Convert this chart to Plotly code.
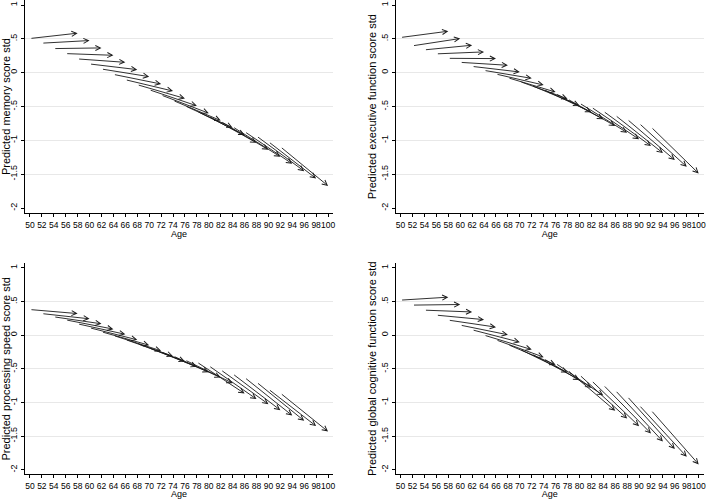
import plotly.graph_objects as go

# ---------------- data ----------------
baseline_age = [50, 52, 54, 56, 58, 60, 62, 64, 66, 68, 70, 72, 74, 76, 78, 80, 82, 84, 86, 88, 90, 92]
followup_age = [58, 60, 62, 64, 66, 68, 70, 72, 74, 76, 78, 80, 82, 84, 86, 88, 90, 92, 94, 96, 98, 100]

memory_start = [0.505, 0.436, 0.356, 0.282, 0.203, 0.129, 0.054, -0.025, -0.104, -0.178, -0.252,
                -0.33, -0.41, -0.49, -0.57, -0.645, -0.72, -0.80, -0.871, -0.936, -1.02, -1.094]
memory_end = [0.584, 0.475, 0.366, 0.257, 0.153, 0.045, -0.059, -0.168, -0.272, -0.381, -0.49,
              -0.599, -0.708, -0.812, -0.921, -1.035, -1.139, -1.243, -1.347, -1.455, -1.564, -1.673]

exec_start = [0.52, 0.397, 0.337, 0.278, 0.212, 0.153, 0.093, 0.034, -0.02, -0.075, -0.13,
              -0.19, -0.25, -0.31, -0.39, -0.45, -0.51, -0.569, -0.629, -0.688, -0.748, -0.802]
exec_end = [0.613, 0.505, 0.406, 0.307, 0.208, 0.109, 0.010, -0.084, -0.183, -0.287, -0.386,
            -0.485, -0.584, -0.688, -0.787, -0.886, -0.985, -1.084, -1.188, -1.292, -1.391, -1.49]

speed_start = [0.38, 0.32, 0.272, 0.227, 0.168, 0.11, 0.05, -0.005, -0.065, -0.125, -0.19,
               -0.25, -0.31, -0.37, -0.40, -0.455, -0.515, -0.574, -0.629, -0.698, -0.802, -0.861]
speed_end = [0.32, 0.242, 0.168, 0.089, 0.012, -0.07, -0.15, -0.233, -0.312, -0.39, -0.47,
             -0.55, -0.63, -0.713, -0.867, -0.95, -1.025, -1.114, -1.194, -1.273, -1.351, -1.432]

global_start = [0.52, 0.446, 0.371, 0.297, 0.223, 0.149, 0.079, 0.0, -0.07, -0.14, -0.21,
                -0.28, -0.35, -0.42, -0.52, -0.59, -0.675, -0.74, -0.82, -0.91, -1.04, -1.115]
global_end = [0.564, 0.455, 0.344, 0.23, 0.119, 0.005, -0.105, -0.215, -0.327, -0.441, -0.554,
              -0.665, -0.78, -0.896, -1.124, -1.238, -1.352, -1.461, -1.58, -1.693, -1.807, -1.92]

y_titles = ["Predicted memory score std",
            "Predicted executive function score std",
            "Predicted processing speed score std",
            "Predicted global cognitive function score std"]

x_tickvals = [50, 52, 54, 56, 58, 60, 62, 64, 66, 68, 70, 72, 74, 76, 78, 80, 82, 84, 86, 88, 90, 92, 94, 96, 98, 100]
x_ticktext = ["50", "52", "54", "56", "58", "60", "62", "64", "66", "68", "70", "72", "74",
              "76", "78", "80", "82", "84", "86", "88", "90", "92", "94", "96", "98", "100"]
y_tickvals = [1, 0.5, 0, -0.5, -1, -1.5, -2]
y_ticktext = ["1", ".5", "0", "-.5", "-1", "-1.5", "-2"]
y_gridvals = [0.5, 0, -0.5, -1, -1.5]

panels = [
    (y_titles[0], memory_start, memory_end),
    (y_titles[1], exec_start, exec_end),
    (y_titles[2], speed_start, speed_end),
    (y_titles[3], global_start, global_end),
]

# ---------------- layout ----------------
W, H = 708, 499
FONT = "Liberation Sans, Arial, sans-serif"
x_dom = [(25, 334), (396.7, 705.7), (25, 334), (396.7, 705.7)]
y_dom_px = [(0, 213.3), (0, 213.3), (263.3, 474.3), (263.3, 474.3)]
y_rng = [(-2.078, 1.074), (-2.078, 1.074), (-2.067, 1.067), (-2.067, 1.067)]

fig = go.Figure()
layout = dict(
    width=W, height=H,
    margin=dict(l=0, r=0, t=0, b=0),
    paper_bgcolor="white", plot_bgcolor="white",
    showlegend=False,
    font=dict(family=FONT, size=10, color="#000000"),
)
annotations = []
for i, (ytitle, ys, ye) in enumerate(panels):
    n = "" if i == 0 else str(i + 1)
    xa, ya = "xaxis" + n, "yaxis" + n
    layout[xa] = dict(
        domain=[x_dom[i][0] / W, x_dom[i][1] / W],
        range=[49.16, 100.84], anchor="y" + n,
        tickmode="array", tickvals=x_tickvals, ticktext=x_ticktext, tickangle=0,
        ticks="outside", ticklen=3, tickwidth=1, tickcolor="#000",
        showline=True, linecolor="#000", linewidth=1,
        showgrid=False, zeroline=False,
        tickfont=dict(size=8.5, family=FONT, color="#000"),
        title=dict(text="Age", font=dict(size=9, family=FONT, color="#000"), standoff=0),
    )
    layout[ya] = dict(
        domain=[1 - y_dom_px[i][1] / H, 1 - y_dom_px[i][0] / H],
        range=list(y_rng[i]), anchor="x" + n,
        tickmode="array", tickvals=y_tickvals, ticktext=y_ticktext, tickangle=-90,
        ticks="outside", ticklen=3, tickwidth=1, tickcolor="#000",
        showline=True, linecolor="#000", linewidth=1,
        showgrid=False, zeroline=False,
        minor=dict(tickmode="array", tickvals=y_gridvals, showgrid=True,
                   gridcolor="#e8e8e8", gridwidth=1, ticks=""),
        tickfont=dict(size=9, family=FONT, color="#000"),
        title=dict(text=ytitle, font=dict(size=11, family=FONT, color="#000"), standoff=1),
    )
    # invisible trace so the axes are drawn
    fig.add_trace(go.Scatter(x=followup_age, y=ye, mode="markers",
                             marker=dict(size=1, opacity=0), hoverinfo="skip",
                             xaxis="x" + n, yaxis="y" + n))
    for a0, a1, v0, v1 in zip(baseline_age, followup_age, ys, ye):
        annotations.append(dict(
            x=a1, y=v1, ax=a0, ay=v0,
            xref="x" + n, yref="y" + n, axref="x" + n, ayref="y" + n,
            text="", showarrow=True, arrowhead=5, arrowsize=1.1,
            arrowwidth=0.9, arrowcolor="#1a1a1a", standoff=0, startstandoff=0,
        ))

layout["annotations"] = annotations
fig.update_layout(**layout)
fig.write_html("out.html", config={"displayModeBar": False},
               post_script="document.body.style.margin='0px';")
